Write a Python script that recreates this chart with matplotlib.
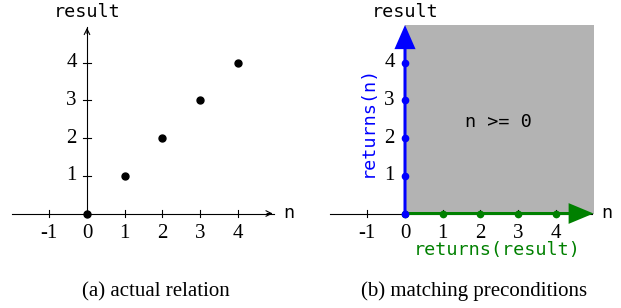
import matplotlib
matplotlib.use('Agg')
from matplotlib import pyplot as plt

# values
x_ticks = [-1, 0, 1, 2, 3, 4]
y_ticks = [1, 2, 3, 4]
rel_n = [0, 1, 2, 3, 4]
rel_result = [0, 1, 2, 3, 4]
axis_end = 5
captions = ['(a) actual relation', '(b) matching preconditions']
region_label = 'n >= 0'

W, H = 621, 308
UNIT = 37.7          # pixels per data unit
XL = (-2.25, 5.8)
YL = (-2.3, 5.6)
serif = 'Liberation Serif'
mono = 'DejaVu Sans Mono'
MONO_SIZE = 13.3

fig = plt.figure(figsize=(W / 100, H / 100), dpi=100)


def make_axes(ox, oy):
    left = ox + XL[0] * UNIT
    right = ox + XL[1] * UNIT
    top = oy - YL[1] * UNIT
    bottom = oy - YL[0] * UNIT
    ax = fig.add_axes([left / W, 1 - bottom / H, (right - left) / W, (bottom - top) / H])
    ax.set_xlim(*XL)
    ax.set_ylim(*YL)
    ax.axis('off')
    return ax


def draw_frame(ax, y_axis=True, thin_tips=True):
    # x axis
    ax.plot([-2, axis_end - 0.05], [0, 0], color='black', lw=0.8, zorder=1)
    if thin_tips:
        ax.annotate('', xy=(axis_end, 0), xytext=(axis_end - 0.3, 0),
                    arrowprops=dict(arrowstyle='->', color='black', lw=0.8))
    if y_axis:
        ax.plot([0, 0], [0, axis_end - 0.05], color='black', lw=0.8, zorder=1)
        ax.annotate('', xy=(0, axis_end), xytext=(0, axis_end - 0.3),
                    arrowprops=dict(arrowstyle='->', color='black', lw=0.8))
        for t in y_ticks:
            ax.plot([-0.1, 0.1], [t, t], color='black', lw=0.8, zorder=1)
    for t in x_ticks:
        ax.plot([t, t], [-0.1, 0.1], color='black', lw=0.8, zorder=1)
        ax.text(t, -0.54, str(t), ha='center', va='center', fontsize=15, family=serif)
    for t in y_ticks:
        ax.text(-0.27, t, str(t), ha='right', va='center', fontsize=15, family=serif)
    ax.text(0, 5.34, 'result', ha='center', va='center', fontsize=MONO_SIZE, family=mono)
    ax.text(5.36, 0, 'n', ha='center', va='center', fontsize=MONO_SIZE, family=mono)


# (a) actual relation
ax1 = make_axes(87, 213.5)
draw_frame(ax1)
ax1.plot(rel_n, rel_result, 'o', color='black', ms=5, zorder=3)

# (b) matching preconditions
ax2 = make_axes(405, 213.5)
ax2.add_patch(plt.Rectangle((0, 0), axis_end, axis_end, color='#b3b3b3', lw=0, zorder=0))
draw_frame(ax2, y_axis=False, thin_tips=False)
ax2.arrow(0, 0, axis_end, 0, width=0.08, head_width=0.55, head_length=0.66,
          length_includes_head=True, color='green', lw=0, zorder=2)
ax2.plot(rel_n, [0] * len(rel_n), 'o', color='green', ms=4.5, zorder=3)
ax2.arrow(0, 0, 0, axis_end, width=0.08, head_width=0.56, head_length=0.64,
          length_includes_head=True, color='blue', lw=0, zorder=4)
ax2.plot([0] * len(rel_result), rel_result, 'o', color='blue', ms=4.5, zorder=5)
ax2.text(2.47, 2.44, region_label, ha='center', va='center', fontsize=MONO_SIZE, family=mono)
ax2.text(-1.0, 2.45, 'returns(n)', ha='center', va='center', rotation=90,
         fontsize=MONO_SIZE, family=mono, color='blue')
ax2.text(2.44, -0.96, 'returns(result)', ha='center', va='center',
         fontsize=MONO_SIZE, family=mono, color='green')

fig.text(155.8 / W, 1 - 292 / H, captions[0], ha='center', va='center', fontsize=15, family=serif)
fig.text(473.8 / W, 1 - 291 / H, captions[1], ha='center', va='center', fontsize=15, family=serif)

fig.savefig('out.png', dpi=100)
